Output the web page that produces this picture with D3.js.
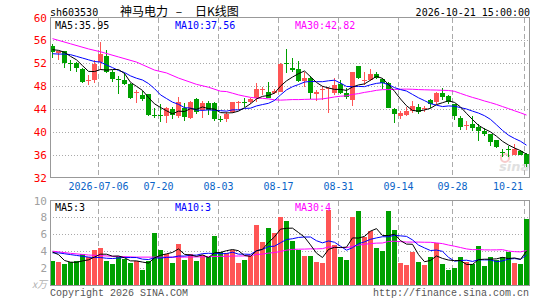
<!DOCTYPE html>
<html>
<head>
<meta charset="utf-8">
<script src="https://cdn.jsdelivr.net/npm/d3@7"></script>
<style>
body { margin: 0; background: #fff; }
svg { display: block; }
</style>
</head>
<body>
<script>
// daily candles, 2026-06-24 .. 2026-10-21
const opens  = [55.1,53.8,54.1,52.0,52.1,51.0,48.9,49.1,52.25,53.3,
                50.55,49.2,49.1,48.4,46.85,46.4,46.56,43.0,42.9,42.8,
                44.0,42.8,44.2,42.5,45.7,43.8,45.0,45.1,42.3,42.2,
                43.5,45.1,45.3,45.26,45.86,47.44,47.0,46.75,47.0,52.1,
                51.15,51.0,48.96,49.45,46.56,47.27,47.44,46.75,48.4,46.75,
                45.56,51.55,48.9,49.15,50.1,49.2,48.6,43.97,42.74,43.0,
                43.6,44.27,43.95,45.5,45.2,46.85,46.2,44.85,42.5,41.1,
                41.45,40.86,40.2,39.57,38.5,36.4,36.95,36.0,36.6,36.05];
const highs  = [55.4,54.2,54.2,52.5,52.3,51.1,50.0,52.5,55.7,54.37,
                50.85,49.7,50.26,48.5,47.4,47.1,46.6,44.1,44.85,44.3,
                44.4,46.1,45.0,45.4,45.86,45.4,45.4,45.2,42.7,43.4,
                45.3,45.4,45.86,46.0,48.6,47.9,48.8,47.44,52.0,54.5,
                52.9,52.4,50.55,49.7,47.3,48.0,47.9,49.5,49.1,47.6,
                50.5,51.6,50.55,51.0,50.5,49.4,48.8,44.1,43.6,44.3,
                45.4,44.8,44.6,45.7,47.0,47.6,46.4,44.9,42.74,41.9,
                42.74,41.45,40.6,39.7,38.6,37.05,37.45,37.8,36.9,36.3];
const lows   = [53.0,52.5,51.25,50.7,50.4,48.6,48.2,48.5,50.85,50.26,
                48.8,46.7,48.2,45.7,45.0,45.4,42.8,42.5,41.74,41.56,
                42.2,42.5,41.9,42.3,43.2,42.5,43.0,41.9,41.7,41.8,
                43.3,43.8,44.4,44.8,45.26,46.4,45.86,46.7,46.9,50.3,
                50.55,48.7,47.9,45.74,45.4,45.56,43.3,46.4,46.6,45.7,
                44.6,49.2,48.2,48.96,49.2,47.44,44.1,41.56,42.3,42.7,
                43.3,43.2,43.5,44.1,44.9,45.56,44.9,42.1,40.3,40.4,
                40.15,38.4,39.2,37.6,37.1,35.6,35.6,35.9,35.9,33.8];
const closes = [53.9,54.1,52.0,51.85,51.1,48.8,49.1,51.85,53.66,50.55,
                49.3,49.1,48.4,45.97,47.0,45.7,42.9,42.9,42.8,44.1,
                43.0,45.26,42.6,45.26,43.5,45.1,43.8,42.2,42.2,43.2,
                45.26,45.2,45.15,45.7,47.44,47.5,46.0,47.15,51.9,52.0,
                50.85,48.96,49.5,46.85,47.0,47.44,47.6,48.2,46.85,46.1,
                50.45,49.4,49.1,50.1,49.5,48.6,44.1,43.15,43.33,43.6,
                44.5,43.5,44.15,44.8,46.85,46.14,45.2,42.7,40.86,41.2,
                40.75,40.1,39.57,38.3,37.4,36.3,36.85,36.95,36.0,34.3];
// volume, x10k lots
const volumes = [2.8,2.68,2.44,2.7,2.8,3.63,3.3,4.1,4.4,2.8,
                 2.44,3.43,3.04,2.56,2.8,1.73,2.85,6.1,4.1,3.63,
                 2.6,4.9,2.92,3.7,2.8,3.5,3.3,5.77,3.9,3.83,
                 4.19,2.6,2.92,3.43,7.08,5.1,6.69,6.17,8.0,7.6,
                 5.18,4.1,3.43,3.43,2.7,2.6,8.87,4.7,3.3,2.92,
                 8.07,8.79,5.7,6.4,4.39,3.99,8.79,6.53,2.56,2.32,
                 3.9,2.68,2.32,3.3,4.98,2.44,1.73,2.0,3.3,2.7,
                 2.44,4.58,2.24,3.3,2.92,3.3,3.9,2.6,2.44,7.76];

const ma5Head = [54.37,54.25,53.9,53.2];
const ma10Head = [53.66,53.6,53.6,53.5,53.2,52.9,52.6,52.3,52.2];
const ma30HeadIdx = [0,3,6,8,11,14,17,19,21,24,26,28];
const ma30HeadVal = [56.3,55.4,54.5,54.0,53.1,52.2,50.8,50.3,49.4,48.3,47.8,47.1];
const volMa5Head = [3.9,3.6,2.9,2.7];
const volMa10Head = [3.8,3.8,3.7,3.6,3.5,3.4,3.3,3.25,3.25];
const volMa30HeadIdx = [0,3,6,10,14,18,22,26,28];
const volMa30HeadVal = [4.0,3.75,3.55,3.4,3.3,3.3,3.3,3.35,3.4];

const dateTicks = [8,18,28,38,48,58,67,79];
const dateLabels = ['2026-07-06','07-20','08-03','08-17','08-31','09-14','09-28','10-21'];
const priceTicks = [60,56,52,48,44,40,36,32];
const volTicks = [10,8,6,4,2];

const width = 545, height = 300;
const plotLeft = 50, plotRight = 530;
const priceTop = 17.5, priceBottom = 177.5;
const volTop = 200.5, volBottom = 285.5;
const upColor = '#ff5555', downColor = '#00a000';
const mono = '"DejaVu Sans Mono", monospace';
const cjk = '"Noto Sans CJK SC", sans-serif';

const svg = d3.select('body').append('svg')
  .attr('width', width)
  .attr('height', height);

const n = closes.length;
const x = d3.scaleBand()
  .domain(d3.range(n))
  .range([plotLeft, plotRight])
  .paddingInner(1 / 6)
  .paddingOuter(1 / 12)
  .align(0);
const bw = x.bandwidth();
const cx = i => x(i) + bw / 2;

const yPrice = d3.scaleLinear().domain([32, 60]).range([priceBottom, priceTop]);
const yVol = d3.scaleLinear().domain([0, 10]).range([volBottom - 0.5, volTop]);

function movingAverage(values, len, headIdx, headVal) {
  const pts = headIdx.map((d, k) => [d, headVal[k]]);
  for (let i = len - 1; i < values.length; i++) {
    pts.push([i, d3.mean(values.slice(i - len + 1, i + 1))]);
  }
  return pts;
}

// horizontal dotted grid
function hGrid(scale, ticks) {
  svg.append('g')
    .attr('transform', 'translate(' + plotLeft + ',0)')
    .call(d3.axisLeft(scale).tickValues(ticks).tickSize(-(plotRight - plotLeft)).tickFormat(''))
    .call(g => g.select('.domain').remove())
    .selectAll('line')
    .attr('stroke', '#aaa')
    .attr('stroke-dasharray', '1,2')
    .attr('shape-rendering', 'crispEdges');
}
hGrid(yPrice, [56, 52, 48, 44, 40, 36]);
hGrid(yVol, [8, 6, 4, 2]);

// vertical dashed grid
[[priceTop, priceBottom], [volTop, volBottom]].forEach(([t, b]) => {
  svg.append('g').selectAll('line')
    .data(dateTicks)
    .join('line')
    .attr('x1', d => x(d) + 0.5)
    .attr('x2', d => x(d) + 0.5)
    .attr('y1', t)
    .attr('y2', b)
    .attr('stroke', '#aaa')
    .attr('stroke-dasharray', '5,3')
    .attr('shape-rendering', 'crispEdges');
});

// watermark
const wm = svg.append('g').attr('opacity', 0.55);
wm.append('circle').attr('cx', 505).attr('cy', 158).attr('r', 4)
  .attr('fill', 'none').attr('stroke', '#f2a0a0').attr('stroke-width', 2);
wm.append('text').attr('x', 499).attr('y', 171)
  .attr('font-family', 'Verdana, "DejaVu Sans", sans-serif')
  .attr('font-size', 13).attr('font-weight', 'bold').attr('font-style', 'italic')
  .attr('fill', '#c8c8c8').text('sina');

// candles
const candles = svg.append('g').attr('shape-rendering', 'crispEdges');
const idx = d3.range(n);
const colorOf = i => closes[i] >= opens[i] ? upColor : downColor;
candles.selectAll('line.wick')
  .data(idx)
  .join('line')
  .attr('class', 'wick')
  .attr('x1', i => cx(i))
  .attr('x2', i => cx(i))
  .attr('y1', i => yPrice(highs[i]))
  .attr('y2', i => yPrice(lows[i]))
  .attr('stroke', colorOf);
candles.selectAll('rect.body')
  .data(idx)
  .join('rect')
  .attr('class', 'body')
  .attr('x', i => x(i))
  .attr('width', bw)
  .attr('y', i => yPrice(Math.max(opens[i], closes[i])))
  .attr('height', i => Math.max(1, Math.abs(yPrice(opens[i]) - yPrice(closes[i]))))
  .attr('fill', colorOf);

// volume bars
svg.append('g').attr('shape-rendering', 'crispEdges')
  .selectAll('rect')
  .data(idx)
  .join('rect')
  .attr('x', i => x(i))
  .attr('width', bw)
  .attr('y', i => yVol(volumes[i]))
  .attr('height', i => yVol(0) - yVol(volumes[i]))
  .attr('fill', colorOf);

// moving average lines
function maLine(pts, scale, color) {
  svg.append('path')
    .datum(pts)
    .attr('fill', 'none')
    .attr('stroke', color)
    .attr('stroke-width', 1)
    .attr('d', d3.line().x(d => cx(d[0])).y(d => scale(d[1])));
}
maLine(movingAverage(closes, 30, ma30HeadIdx, ma30HeadVal), yPrice, '#ff00ff');
maLine(movingAverage(closes, 10, d3.range(9), ma10Head), yPrice, '#0000ff');
maLine(movingAverage(closes, 5, d3.range(4), ma5Head), yPrice, '#000000');
maLine(movingAverage(volumes, 30, volMa30HeadIdx, volMa30HeadVal), yVol, '#ff00ff');
maLine(movingAverage(volumes, 10, d3.range(9), volMa10Head), yVol, '#0000ff');
maLine(movingAverage(volumes, 5, d3.range(4), volMa5Head), yVol, '#000000');

// panel borders
[[priceTop, priceBottom], [volTop, volBottom]].forEach(([t, b]) => {
  svg.append('rect')
    .attr('x', plotLeft + 0.5)
    .attr('y', t)
    .attr('width', plotRight - plotLeft - 1)
    .attr('height', b - t)
    .attr('fill', 'none')
    .attr('stroke', '#999')
    .attr('shape-rendering', 'crispEdges');
});

// y axes
function yAxis(scale, ticks, color) {
  svg.append('g')
    .attr('transform', 'translate(' + plotLeft + ',0)')
    .call(d3.axisLeft(scale).tickValues(ticks).tickSize(0).tickPadding(3))
    .call(g => g.select('.domain').remove())
    .selectAll('text')
    .attr('font-family', mono)
    .attr('font-size', 11)
    .attr('fill', color);
}
yAxis(yPrice, priceTicks, '#ff0000');
yAxis(yVol, volTicks, '#a0a0a0');
svg.append('text')
  .attr('x', 47).attr('y', 288)
  .attr('text-anchor', 'end')
  .attr('font-family', cjk)
  .attr('font-size', 10).attr('font-style', 'italic')
  .attr('fill', '#b0b0b0')
  .text('x万');

// date labels
svg.append('g').selectAll('text')
  .data(dateTicks)
  .join('text')
  .attr('x', (d, i) => i === dateTicks.length - 1 ? x(d) - 1 : x(d) + 0.5)
  .attr('y', 190)
  .attr('text-anchor', (d, i) => i === dateTicks.length - 1 ? 'end' : 'middle')
  .attr('font-family', mono)
  .attr('font-size', 10)
  .attr('fill', '#0a64c8')
  .text((d, i) => dateLabels[i]);

// header
function label(txt, xPos, yPos, color, opts = {}) {
  svg.append('text')
    .attr('x', xPos).attr('y', yPos)
    .attr('text-anchor', opts.anchor || 'start')
    .attr('font-family', opts.family || mono)
    .attr('font-size', opts.size || 10)
    .attr('fill', color)
    .text(txt);
}
label('sh603530', 50, 15.5, '#000');
label('神马电力', 120, 16, '#000', {family: cjk, size: 12});
label('–', 179, 16, '#000', {family: cjk, size: 12, anchor: 'middle'});
label('日K线图', 195, 16, '#000', {family: cjk, size: 12});
label('2026-10-21 15:00:00', 530, 15.5, '#000', {anchor: 'end'});

label('MA5:35.95', 55, 28.5, '#000');
label('MA10:37.56', 175, 28.5, '#0000ff');
label('MA30:42.82', 295, 28.5, '#ff00ff');
label('MA5:3', 55, 210.5, '#000');
label('MA10:3', 175, 210.5, '#0000ff');
label('MA30:4', 295, 210.5, '#ff00ff');

label('Copyright 2026 SINA.COM', 50, 296, '#555', {family: '"Liberation Mono", monospace'});
label('http://finance.sina.com.cn', 529, 296, '#555', {family: '"Liberation Mono", monospace', anchor: 'end'});
</script>
</body>
</html>
